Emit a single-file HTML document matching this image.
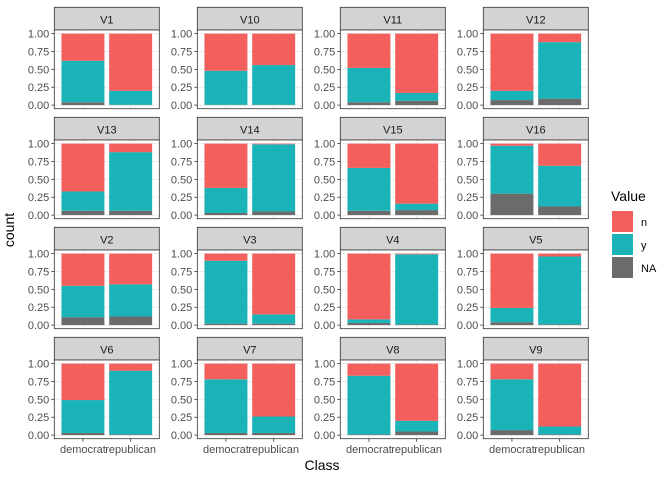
<!DOCTYPE html>
<html><head><meta charset="utf-8"><style>
html,body{margin:0;padding:0;background:#fff}
svg{display:block;font-family:"Liberation Sans",Arial,sans-serif}
</style></head><body>
<svg id="chart" width="672" height="480" viewBox="0 0 672 480" xmlns="http://www.w3.org/2000/svg">
<text x="14" y="230" transform="rotate(-90 14 230)" text-anchor="middle" font-size="14" fill="#000">count</text>
<text x="322" y="470" text-anchor="middle" font-size="14" fill="#000">Class</text>
<g>
<text x="611" y="201" font-size="14" fill="#000">Value</text>
<rect x="612" y="211" width="21" height="21" fill="#F35F5C"/>
<text x="641" y="226" font-size="11" fill="#000">n</text>
<rect x="612" y="234" width="21" height="21" fill="#19B3B8"/>
<text x="641" y="249" font-size="11" fill="#000">y</text>
<rect x="612" y="257" width="21" height="21" fill="#6b6b6b"/>
<text x="641" y="272" font-size="11" fill="#000">NA</text>
</g>
</svg>
<script>
const facets = ["V1","V10","V11","V12","V13","V14","V15","V16","V2","V3","V4","V5","V6","V7","V8","V9"];
const categories = ["democrat","republican"];
const naDem = [0.04,0.005,0.04,0.07,0.06,0.03,0.06,0.30,0.11,0.02,0.03,0.04,0.03,0.03,0.01,0.07];
const yDem  = [0.58,0.475,0.48,0.13,0.27,0.35,0.60,0.67,0.44,0.88,0.05,0.20,0.46,0.75,0.82,0.71];
const naRep = [0.005,0.005,0.06,0.09,0.06,0.05,0.07,0.12,0.12,0.02,0.01,0.01,0.01,0.03,0.05,0.01];
const yRep  = [0.195,0.555,0.11,0.79,0.82,0.94,0.09,0.57,0.45,0.13,0.98,0.95,0.89,0.23,0.15,0.11];
const yTicks = [0,0.25,0.5,0.75,1];
const yTickLabels = ["0.00","0.25","0.50","0.75","1.00"];

const svg = document.getElementById('chart');
const NS = "http://www.w3.org/2000/svg";
const colX = [54.3,197.3,340.3,483.3], rowY = [7.3,117.3,227.3,337.3];
const PW = 105, SH = 22.7, PH = 78.7;
const COL = {n:"#F35F5C", y:"#19B3B8", na:"#6b6b6b"};
function mk(tag, attrs, parent){const e=document.createElementNS(NS,tag);for(const k in attrs)e.setAttribute(k,attrs[k]);(parent||svg).appendChild(e);return e;}

facets.forEach((f,i)=>{
  const r=Math.floor(i/4), c=i%4;
  const x0=colX[c], top=rowY[r], pt=top+SH, pb=pt+PH;
  const g=mk('g',{});
  
  
  const sy = v => pb - 3.6 - v*(PH-7.2);
  const sx = v => x0 + (v-0.4)/2.2*PW;
  const st=mk('rect',{x:x0,y:top,width:PW,height:SH,fill:"#d3d3d3",stroke:"#333",'stroke-width':0.8},g);
  
  
  const stt=mk('text',{x:x0+PW/2,y:top+16,'text-anchor':'middle','font-size':11,fill:'#1a1a1a'},g);
  stt.textContent=f;
  
  
  mk('rect',{x:x0,y:pt,width:PW,height:PH,fill:'#fff'},g);
  for(let k=0;k<4;k++){const v=0.125+k*0.25;mk('line',{x1:x0,x2:x0+PW,y1:sy(v),y2:sy(v),stroke:'#f3f3f3','stroke-width':0.5},g);}
  yTicks.forEach(v=>mk('line',{x1:x0,x2:x0+PW,y1:sy(v),y2:sy(v),stroke:'#ebebeb','stroke-width':1},g));
  [1,2].forEach(v=>mk('line',{x1:sx(v),x2:sx(v),y1:pt,y2:pb,stroke:'#ebebeb','stroke-width':1},g));
  const data=[[naDem[i],yDem[i]],[naRep[i],yRep[i]]];
  data.forEach((d,j)=>{
    const na=d[0], yy=d[1];
    const bx=sx(j+1)-0.45*PW/2.2, bw=0.9*PW/2.2;
    const segs=[['na',0,na],['y',na,na+yy],['n',na+yy,1]];
    segs.forEach(s=>{
      const b=mk('rect',{x:bx,y:sy(s[2]),width:bw,height:Math.max(0,sy(s[1])-sy(s[2])),fill:COL[s[0]]},g);
      
      
    });
  });
  mk('rect',{x:x0,y:pt,width:PW,height:PH,fill:'none',stroke:'#333','stroke-width':0.8},g);
  yTicks.forEach((v,k)=>{
    mk('line',{x1:x0-3,x2:x0,y1:sy(v),y2:sy(v),stroke:'#333','stroke-width':0.8},g);
    const t=mk('text',{x:x0-5,y:sy(v)+4,'text-anchor':'end','font-size':11,fill:'#4d4d4d'},g);
    t.textContent=yTickLabels[k];
    
    
  });
  if(r===3){
    categories.forEach((cat,j)=>{
      mk('line',{x1:sx(j+1),x2:sx(j+1),y1:pb,y2:pb+3,stroke:'#333','stroke-width':0.8},g);
      const t=mk('text',{x:sx(j+1),y:pb+14.5,'text-anchor':'middle','font-size':11,fill:'#4d4d4d'},g);
      t.textContent=cat;
      
      
    });
  }
});
</script>
</body></html>
